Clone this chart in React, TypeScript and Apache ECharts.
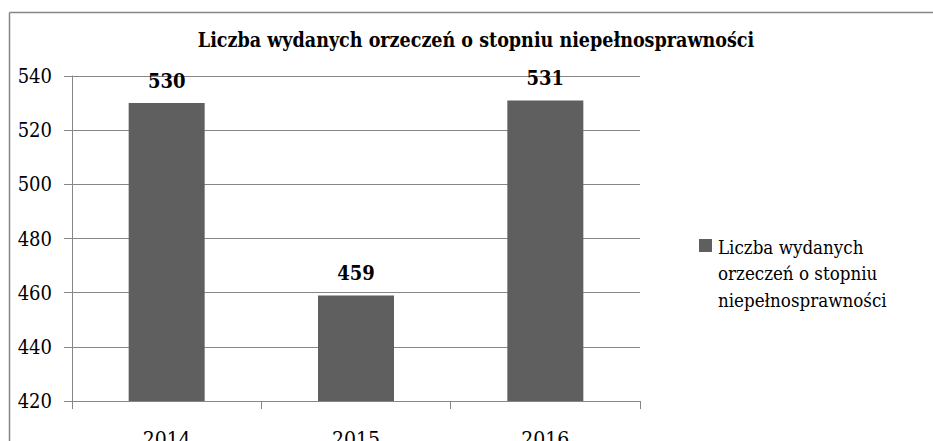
import React, { useEffect, useRef } from "react";
import * as echarts from "echarts";

const categories: string[] = ["2014", "2015", "2016"];
const seriesName = "Liczba wydanych orzeczeń o stopniu niepełnosprawności";
const values: number[] = [530, 459, 531];
const legendLines: string[] = ["Liczba wydanych", "orzeczeń o stopniu", "niepełnosprawności"];
const yMin = 420;
const yMax = 540;
const yStep = 20;

const FONT = "DejaVu Serif Condensed";
const GRAY = "#868686";
const BAR = "#5f5f5f";

export default function App() {
  const ref = useRef<HTMLDivElement>(null);
  useEffect(() => {
    if (!ref.current) return;
    const chart = echarts.init(ref.current, undefined, { renderer: "svg" });
    chart.setOption({
      animation: false,
      backgroundColor: "#ffffff",
      textStyle: { fontFamily: FONT },
      grid: { left: 72, right: 293, top: 76, bottom: 40, containLabel: false, outerBoundsMode: "none" },
      xAxis: {
        type: "category",
        data: categories,
        boundaryGap: true,
        axisLine: { show: true, lineStyle: { color: GRAY, width: 1 } },
        axisTick: { show: true, length: 8, lineStyle: { color: GRAY } },
        axisLabel: { fontFamily: FONT, fontSize: 21, color: "#000", margin: 27 },
      },
      yAxis: {
        type: "value",
        min: yMin,
        max: yMax,
        interval: yStep,
        axisLine: { show: true, lineStyle: { color: GRAY, width: 1 } },
        axisTick: { show: true, length: 8, lineStyle: { color: GRAY } },
        axisLabel: { fontFamily: FONT, fontSize: 20, color: "#000", margin: 20 },
        splitLine: { show: true, lineStyle: { color: GRAY, width: 1 } },
      },
      series: [
        {
          type: "bar",
          name: seriesName,
          data: values,
          barWidth: 76,
          itemStyle: { color: BAR },
          label: {
            show: true,
            position: "top",
            distance: 12,
            fontFamily: FONT,
            fontSize: 20,
            fontWeight: "bold",
            color: "#000",
          },
        },
      ],
      graphic: [
        {
          type: "line",
          shape: { x1: 9.5, y1: 12.5, x2: 933, y2: 12.5 },
          style: { stroke: GRAY, lineWidth: 1.5 },
        },
        {
          type: "line",
          shape: { x1: 9.5, y1: 12.5, x2: 9.5, y2: 441 },
          style: { stroke: GRAY, lineWidth: 1.5 },
        },
        {
          type: "text",
          x: 476,
          y: 40,
          style: {
            text: seriesName,
            fontFamily: FONT,
            fontSize: 19.5,
            fontWeight: "bold",
            fill: "#000",
            align: "center",
            verticalAlign: "middle",
          },
        },
        {
          type: "rect",
          shape: { x: 699, y: 239, width: 13, height: 13 },
          style: { fill: BAR },
        },
        {
          type: "text",
          x: 718,
          y: 234,
          style: {
            text: legendLines.join("\n"),
            fontFamily: FONT,
            fontSize: 18.6,
            lineHeight: 26.5,
            fill: "#000",
            align: "left",
            verticalAlign: "top",
          },
        },
      ],
    });
    return () => chart.dispose();
  }, []);
  return (
    <div
      ref={ref}
      style={{ position: "absolute", left: 0, top: 0, width: 933, height: 441 }}
    />
  );
}
